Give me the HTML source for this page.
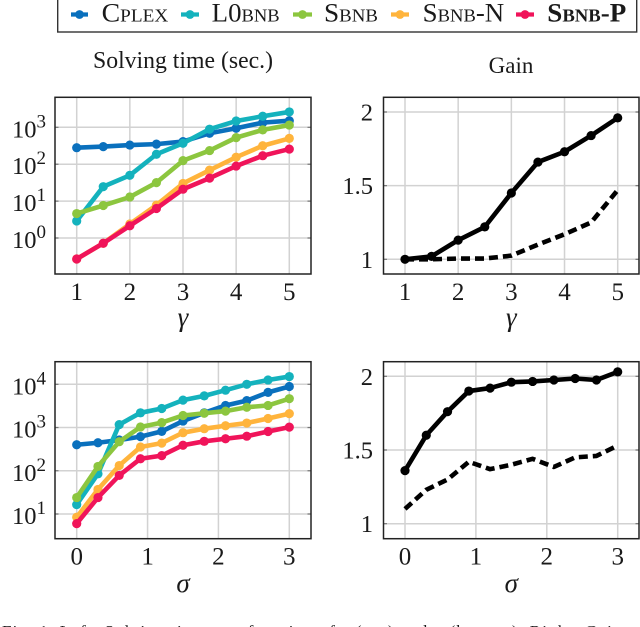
<!DOCTYPE html>
<html lang="en">
<head>
<meta charset="utf-8">
<title>Solving time and gain charts</title>
<style>
html,body{margin:0;padding:0;background:#fff;width:640px;height:627px;overflow:hidden}
svg{display:block}
text{font-family:"Liberation Serif","DejaVu Serif",serif;fill:#1a1a1a}
.sc{font-variant:small-caps}
</style>
</head>
<body>
<svg id="figure" xmlns="http://www.w3.org/2000/svg" width="640" height="627" viewBox="0 0 640 627">
  <g id="legend">
    <rect x="57.7" y="-3" width="579" height="35" fill="#fff" stroke="#333" stroke-width="1.4"/>
    <g>
      <line x1="71" x2="88" y1="14.5" y2="14.5" stroke="#0a70bd" stroke-width="4.2"/><circle cx="79.5" cy="14.5" r="4.4" fill="#0a70bd"/>
      <text class="sc" x="101.7" y="21.5" font-size="26" textLength="66.5" lengthAdjust="spacingAndGlyphs">Cplex</text>
    </g>
    <g>
      <line x1="181" x2="199" y1="14.5" y2="14.5" stroke="#14b2bd" stroke-width="4.2"/><circle cx="190" cy="14.5" r="4.4" fill="#14b2bd"/>
      <text class="sc" x="211.7" y="21.5" font-size="26" textLength="68" lengthAdjust="spacingAndGlyphs">L0bnb</text>
    </g>
    <g>
      <line x1="293" x2="312" y1="14.5" y2="14.5" stroke="#8cc63f" stroke-width="4.2"/><circle cx="302.5" cy="14.5" r="4.4" fill="#8cc63f"/>
      <text class="sc" x="324" y="21.5" font-size="26" textLength="54" lengthAdjust="spacingAndGlyphs">Sbnb</text>
    </g>
    <g>
      <line x1="391" x2="409" y1="14.5" y2="14.5" stroke="#ffb43c" stroke-width="4.2"/><circle cx="400" cy="14.5" r="4.4" fill="#ffb43c"/>
      <text class="sc" x="422.7" y="21.5" font-size="26" textLength="81.5" lengthAdjust="spacingAndGlyphs">Sbnb-N</text>
    </g>
    <g>
      <line x1="516" x2="534" y1="14.5" y2="14.5" stroke="#f0145a" stroke-width="4.2"/><circle cx="525" cy="14.5" r="4.4" fill="#f0145a"/>
      <text class="sc" x="547.3" y="21.5" font-size="26" font-weight="bold" textLength="79" lengthAdjust="spacingAndGlyphs">Sbnb-P</text>
    </g>
  </g>
  <text x="93" y="68" font-size="24" textLength="180" lengthAdjust="spacingAndGlyphs">Solving time (sec.)</text>
  <text x="511" y="73" font-size="23" text-anchor="middle">Gain</text>
  <text x="2" y="637" font-size="17" textLength="625" lengthAdjust="spacing">Fig. 1.   Left: Solving time as a function of γ (top) and σ (bottom). Right: Gain.</text>
</svg>
<script>
const xGamma = [1, 1.5, 2, 2.5, 3, 3.5, 4, 4.5, 5];
const xSigma = [0, 0.3, 0.6, 0.9, 1.2, 1.5, 1.8, 2.1, 2.4, 2.7, 3];
const xTicksGamma = [1, 2, 3, 4, 5];
const xTicksSigma = [0, 1, 2, 3];
const yExpTicksTop = [0, 1, 2, 3];
const yExpTicksBottom = [1, 2, 3, 4];
const yGainTicks = [1, 1.5, 2];

const timeGammaCplex = [280, 300, 330, 350, 410, 690, 940, 1340, 1510];
const timeGammaL0bnb = [2.9, 24.6, 50, 186, 370, 890, 1480, 1990, 2610];
const timeGammaSbnb = [4.6, 7.6, 12.9, 31.6, 125, 234, 525, 850, 1150];
const timeGammaSbnbN = [0.27, 0.72, 2.4, 7.8, 30, 69, 155, 316, 500];
const timeGammaSbnbP = [0.27, 0.72, 2.15, 6.3, 21, 42, 89, 170, 257];

const timeSigmaCplex = [400, 445, 515, 615, 815, 1410, 2190, 3240, 4200, 6500, 8900];
const timeSigmaL0bnb = [16.5, 85, 1170, 2190, 2760, 4300, 5400, 7300, 10000, 12600, 15100];
const timeSigmaSbnb = [24, 126, 470, 1030, 1300, 1900, 2140, 2400, 2950, 3240, 4650];
const timeSigmaSbnbN = [8.4, 37, 132, 355, 436, 760, 940, 1100, 1270, 1620, 2100];
const timeSigmaSbnbP = [6, 24, 78, 190, 224, 390, 480, 550, 630, 810, 1020];

const gainGammaSolid = [1, 1.02, 1.13, 1.22, 1.45, 1.66, 1.73, 1.84, 1.96];
const gainGammaDashed = [1, 1, 1.005, 1.005, 1.025, 1.1, 1.17, 1.25, 1.47];
const gainSigmaSolid = [1.36, 1.6, 1.76, 1.9, 1.92, 1.96, 1.965, 1.975, 1.985, 1.975, 2.03];
const gainSigmaDashed = [1.1, 1.23, 1.3, 1.42, 1.37, 1.4, 1.44, 1.385, 1.45, 1.46, 1.53];

const NS = 'http://www.w3.org/2000/svg';
const svg = document.getElementById('figure');

function make(parent, tag, attrs, txt) {
  const node = document.createElementNS(NS, tag);
  for (const k in attrs) node.setAttribute(k, attrs[k]);
  if (txt !== undefined) node.textContent = txt;
  parent.appendChild(node);
  return node;
}

function linearAxis(d0, d1, r0, r1) {
  return v => r0 + (v - d0) * (r1 - r0) / (d1 - d0);
}
function logAxis(d0, d1, r0, r1) {
  const a = linearAxis(Math.log10(d0), Math.log10(d1), r0, r1);
  return v => a(Math.log10(v));
}

function drawFrame(name, box, sx, sy, xTicks, yTicks, yVals, xLabel, xLabelY, xTickY, labelRight, isLog) {
  const g = make(svg, 'g', {});
  
  

  xTicks.forEach(t => {
    const line = make(g, 'line', {x1: sx(t), x2: sx(t), y1: box.top, y2: box.bottom, stroke: '#d2d2d2', 'stroke-width': 1.5});
    
    
    const lab = make(g, 'text', {x: sx(t), y: xTickY, 'font-size': 25, 'text-anchor': 'middle'}, String(t));
    
    
  });

  yTicks.forEach((t, i) => {
    const y = sy(yVals[i]);
    const line = make(g, 'line', {x1: box.left, x2: box.right, y1: y, y2: y, stroke: '#d2d2d2', 'stroke-width': 1.5});
    
    
    const tl = make(g, 'line', {x1: box.left, x2: box.left + 3.5, y1: y, y2: y, stroke: '#777', 'stroke-width': 1.2});
    
    
    const tr = make(g, 'line', {x1: box.right - 3.5, x2: box.right, y1: y, y2: y, stroke: '#777', 'stroke-width': 1.2});
    
    
    const lab = make(g, 'text', {x: labelRight, y: y + (isLog ? 10 : 8.5), 'font-size': 24.5, 'text-anchor': 'end'});
    
    
    if (isLog) {
      make(lab, 'tspan', {}, '10');
      make(lab, 'tspan', {dy: -10, 'font-size': 19}, String(t));
    } else {
      lab.textContent = String(t);
    }
  });

  const lab = make(g, 'text', {x: (sx(xTicks[0]) + sx(xTicks[xTicks.length - 1])) / 2, y: xLabelY, 'font-size': 27, 'font-style': 'italic', 'text-anchor': 'middle'}, xLabel);
  
  
  return g;
}

function drawBorder(g, name, box) {
  const r = make(g, 'rect', {x: box.left, y: box.top, width: box.right - box.left, height: box.bottom - box.top, fill: 'none', stroke: '#222', 'stroke-width': 1.5});
  
  
}

function pathOf(xs, ys, sx, sy) {
  return xs.map((x, i) => (i ? 'L' : 'M') + sx(x).toFixed(2) + ' ' + sy(ys[i]).toFixed(2)).join(' ');
}

function drawSeries(g, name, xs, ys, sx, sy, color) {
  const p = make(g, 'path', {d: pathOf(xs, ys, sx, sy), fill: 'none', stroke: color, 'stroke-width': 4.6, 'stroke-linejoin': 'round'});
  
  
  xs.forEach((x, i) => {
    const c = make(g, 'circle', {cx: sx(x), cy: sy(ys[i]), r: 4.6, fill: color});
    
    
  });
}

function drawDashed(g, name, xs, ys, sx, sy) {
  const p = make(g, 'path', {d: pathOf(xs, ys, sx, sy), fill: 'none', stroke: '#000', 'stroke-width': 4.6, 'stroke-dasharray': '9 5', 'stroke-linejoin': 'round'});
  
  
}

const colors = {cplex: '#0a70bd', l0bnb: '#14b2bd', sbnb: '#8cc63f', sbnbN: '#ffb43c', sbnbP: '#f0145a'};

/* top-left */
{
  const box = {left: 55, right: 311, top: 97.3, bottom: 274};
  const sx = linearAxis(1, 5, 76.7, 289.3);
  const sy = logAxis(1, 1000, 238, 127.3);
  const g = drawFrame('time-gamma', box, sx, sy, xTicksGamma, yExpTicksTop, yExpTicksTop.map(e => Math.pow(10, e)), 'γ', 326, 300, 46, true);
  drawSeries(g, 'time-gamma-cplex', xGamma, timeGammaCplex, sx, sy, colors.cplex);
  drawSeries(g, 'time-gamma-l0bnb', xGamma, timeGammaL0bnb, sx, sy, colors.l0bnb);
  drawSeries(g, 'time-gamma-sbnb', xGamma, timeGammaSbnb, sx, sy, colors.sbnb);
  drawSeries(g, 'time-gamma-sbnb-n', xGamma, timeGammaSbnbN, sx, sy, colors.sbnbN);
  drawSeries(g, 'time-gamma-sbnb-p', xGamma, timeGammaSbnbP, sx, sy, colors.sbnbP);
  drawBorder(g, 'time-gamma', box);
}

/* bottom-left */
{
  const box = {left: 55, right: 311, top: 361.7, bottom: 538.7};
  const sx = linearAxis(0, 3, 76.7, 289.3);
  const sy = logAxis(10, 10000, 514, 384.3);
  const g = drawFrame('time-sigma', box, sx, sy, xTicksSigma, yExpTicksBottom, yExpTicksBottom.map(e => Math.pow(10, e)), 'σ', 592, 564.5, 46, true);
  drawSeries(g, 'time-sigma-cplex', xSigma, timeSigmaCplex, sx, sy, colors.cplex);
  drawSeries(g, 'time-sigma-l0bnb', xSigma, timeSigmaL0bnb, sx, sy, colors.l0bnb);
  drawSeries(g, 'time-sigma-sbnb', xSigma, timeSigmaSbnb, sx, sy, colors.sbnb);
  drawSeries(g, 'time-sigma-sbnb-n', xSigma, timeSigmaSbnbN, sx, sy, colors.sbnbN);
  drawSeries(g, 'time-sigma-sbnb-p', xSigma, timeSigmaSbnbP, sx, sy, colors.sbnbP);
  drawBorder(g, 'time-sigma', box);
}

/* top-right */
{
  const box = {left: 383.5, right: 639, top: 97.3, bottom: 274};
  const sx = linearAxis(1, 5, 405, 617.7);
  const sy = linearAxis(1, 2, 259.3, 112);
  const g = drawFrame('gain-gamma', box, sx, sy, xTicksGamma, yGainTicks, yGainTicks, 'γ', 326, 300, 373, false);
  drawDashed(g, 'gain-gamma-dashed', xGamma, gainGammaDashed, sx, sy);
  drawSeries(g, 'gain-gamma-solid', xGamma, gainGammaSolid, sx, sy, '#000');
  drawBorder(g, 'gain-gamma', box);
}

/* bottom-right */
{
  const box = {left: 383.5, right: 639, top: 361.7, bottom: 538.7};
  const sx = linearAxis(0, 3, 405, 617.7);
  const sy = linearAxis(1, 2, 523.7, 376.3);
  const g = drawFrame('gain-sigma', box, sx, sy, xTicksSigma, yGainTicks, yGainTicks, 'σ', 592, 564.5, 373, false);
  drawDashed(g, 'gain-sigma-dashed', xSigma, gainSigmaDashed, sx, sy);
  drawSeries(g, 'gain-sigma-solid', xSigma, gainSigmaSolid, sx, sy, '#000');
  drawBorder(g, 'gain-sigma', box);
}
</script>
</body>
</html>
